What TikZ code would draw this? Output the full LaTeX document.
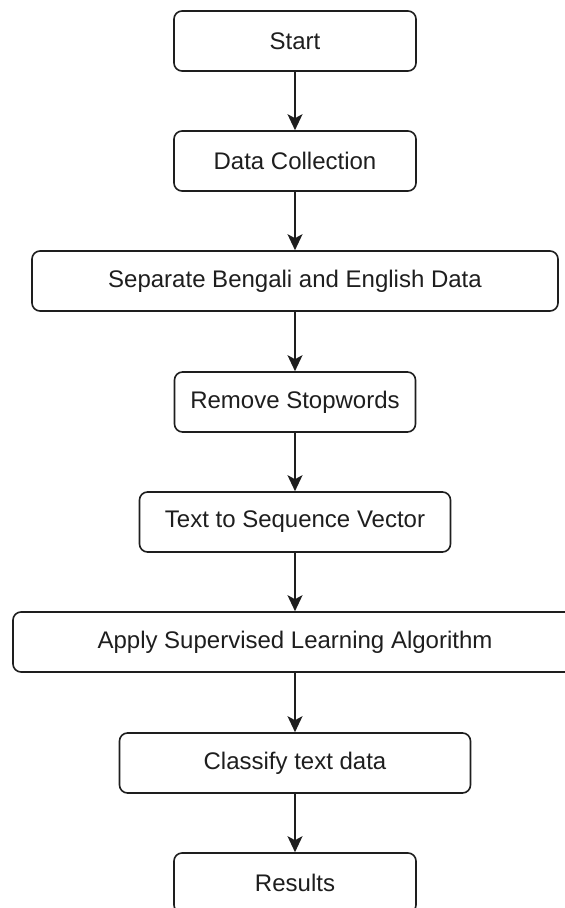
\documentclass[tikz,border=0pt]{standalone}
\usepackage{fontspec}
\setmainfont{Liberation Sans}
\usetikzlibrary{arrows.meta}
\definecolor{ink}{HTML}{1E1E1E}
\begin{document}
\begin{tikzpicture}[x=1pt,y=-1pt,
  flowbox/.style={draw=ink, line width=1.6pt, rounded corners=8pt, fill=white,
    minimum height=60pt, inner sep=0pt, text=ink,
    font=\fontsize{24}{28}\selectfont},
  flowarrow/.style={draw=ink, line width=1.8pt,
    -{Stealth[length=16pt,width=15pt,inset=4pt]}}]
\useasboundingbox (0,0) rectangle (565,908);
\clip (0,0) rectangle (565,908);
\fill[white] (0,0) rectangle (565,908);
\node[flowbox, minimum width=242pt] (start) at (295,41) {Start};
\node[flowbox, minimum width=242pt] (collect) at (295,161) {Data Collection};
\node[flowbox, minimum width=526pt] (separate) at (295,281) {Separate Bengali and English Data};
\node[flowbox, minimum width=241pt] (stop) at (295,402) {Remove Stopwords};
\node[flowbox, minimum width=311pt] (seq) at (295,522) {Text to Sequence Vector};
\node[flowbox, minimum width=564pt] (apply) at (295,642) {Apply Supervised Learning Algorithm};
\node[flowbox, minimum width=351pt] (classify) at (295,763) {Classify text data};
\node[flowbox, minimum width=242pt] (results) at (295,883) {Results};
\draw[flowarrow] (start) -- (collect);
\draw[flowarrow] (collect) -- (separate);
\draw[flowarrow] (separate) -- (stop);
\draw[flowarrow] (stop) -- (seq);
\draw[flowarrow] (seq) -- (apply);
\draw[flowarrow] (apply) -- (classify);
\draw[flowarrow] (classify) -- (results);
\end{tikzpicture}
\end{document}
